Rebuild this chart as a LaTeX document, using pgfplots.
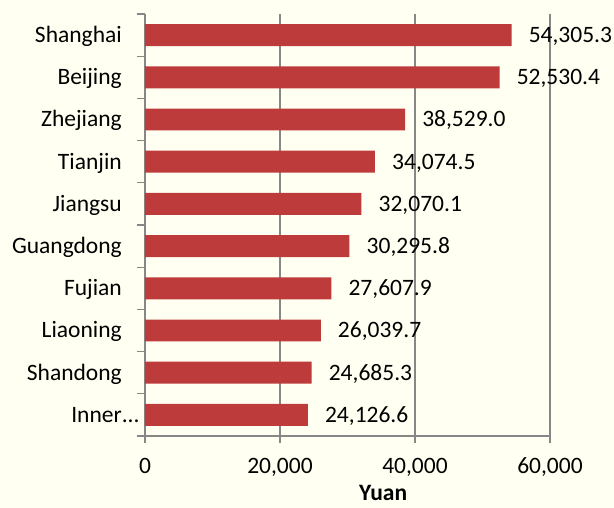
\documentclass[border=0pt]{standalone}
\usepackage{pgfplots}
\usepackage{pgfplotstable}
\pgfplotsset{compat=1.18}
\usepackage{fontspec}
\setmainfont{Carlito}
\definecolor{bg}{HTML}{FFFFF2}
\definecolor{barred}{HTML}{BE3B3B}
\definecolor{axgray}{HTML}{878787}
\newcommand{\cf}{\fontsize{23.5}{28}\selectfont}
\pgfplotstableread{
y v l
0 24126.6 24,126.6
1 24685.3 24,685.3
2 26039.7 26,039.7
3 27607.9 27,607.9
4 30295.8 30,295.8
5 32070.1 32,070.1
6 34074.5 34,074.5
7 38529.0 38,529.0
8 52530.4 52,530.4
9 54305.3 54,305.3
}\datatable
\begin{document}
\begin{tikzpicture}[x=1pt,y=1pt]
\fill[bg] (-145,-72) rectangle (469,436);
\useasboundingbox (-145,-72) rectangle (469,436);
\begin{axis}[
  at={(0,0)}, anchor=south west,
  scale only axis, width=405pt, height=422pt,
  xbar, bar width=0.52, bar shift=0pt,
  xmin=0, xmax=60000, ymin=-0.5, ymax=9.5,
  scaled x ticks=false,
  axis x line*=bottom, axis y line*=left,
  axis line style={axgray, line width=1.3pt, -},
  xtick={0,20000,40000,60000},
  xticklabels={0,{20,000},{40,000},{60,000}},
  ytick={0,...,9},
  yticklabels={Inner\rlap{...},Shandong,Liaoning,Fujian,Guangdong,Jiangsu,Tianjin,Zhejiang,Beijing,Shanghai},
  minor ytick={-0.5,0.5,...,9.5},
  tick align=outside,
  major tick length=7pt, minor tick length=8pt,
  major y tick style={draw=none},
  minor y tick style={axgray, line width=1.3pt},
  major x tick style={axgray, line width=1.3pt},
  xmajorgrids, grid style={axgray, line width=1.3pt},
  yticklabel style={anchor=base east, inner sep=0pt, xshift=-16pt, yshift=-7.5pt, font=\cf, text=black},
  xticklabel style={anchor=base, inner sep=0pt, yshift=-31pt, font=\cf, text=black},
  xlabel={Yuan},
  xlabel style={at={(axis description cs:0.588,0)}, anchor=base, yshift=-65pt, inner sep=0pt, font=\cf\bfseries},
]
\addplot[fill=barred, draw=none, nodes near coords, point meta=explicit symbolic,
  nodes near coords style={anchor=base west, inner sep=0pt, xshift=17pt, yshift=-7.4pt, font=\cf, text=black}]
  table[x=v, y=y, meta=l] {\datatable};
\end{axis}
\end{tikzpicture}
\end{document}
